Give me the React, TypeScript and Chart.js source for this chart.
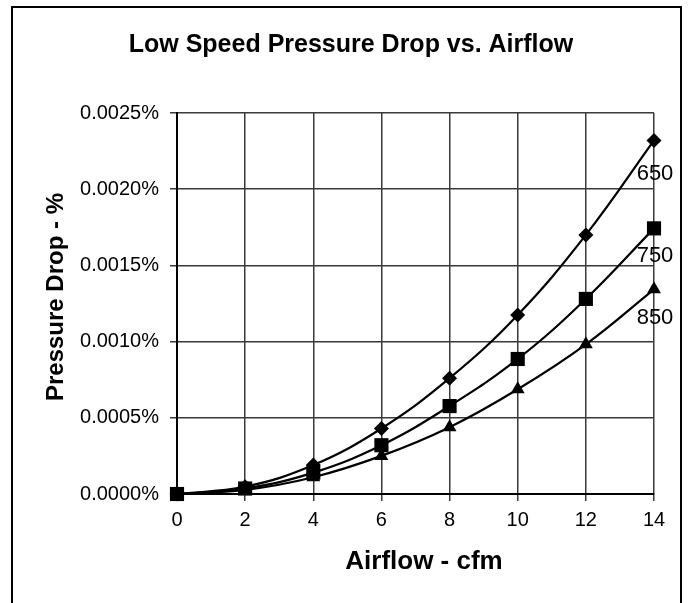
import React, { useEffect, useRef } from "react";
import { Chart, registerables } from "chart.js";

Chart.register(...registerables);

const airflow = [0, 2, 4, 6, 8, 10, 12, 14];
const seriesNames = ["650", "750", "850"];
const drop650 = [0, 0.000048, 0.00019, 0.00043, 0.00076, 0.001175, 0.0017, 0.00232];
const drop750 = [0, 0.000036, 0.00014, 0.00032, 0.000577, 0.000886, 0.00128, 0.001743];
const drop850 = [0, 0.000027, 0.00011, 0.00025, 0.000438, 0.000687, 0.000982, 0.001343];
const yTicks = [0, 0.0005, 0.001, 0.0015, 0.002, 0.0025];
const titleText = "Low Speed Pressure Drop vs. Airflow";
const xTitle = "Airflow - cfm";
const yTitle = "Pressure Drop - %";

const FONT = '"Liberation Sans", Arial, sans-serif';

export default function App() {
  const ref = useRef<HTMLCanvasElement | null>(null);

  useEffect(() => {
    if (!ref.current) return;
    const mk = (vals: number[]) => airflow.map((x, i) => ({ x, y: vals[i] }));
    const styles = ["rectRot", "rect", "triangle"];
    const radii = [7.5, 10, 8];
    const all = [drop650, drop750, drop850];

    const textPlugin = {
      id: "texts",
      beforeDraw(chart: any) {
        const ctx = chart.ctx;
        ctx.save();
        ctx.fillStyle = "#fff";
        ctx.fillRect(0, 0, chart.width, chart.height);
        ctx.restore();
      },
      afterDraw(chart: any) {
        const ctx = chart.ctx;
        ctx.save();
        ctx.fillStyle = "#000";
        ctx.textAlign = "center";
        ctx.textBaseline = "middle";
        ctx.font = `bold 25px ${FONT}`;
        ctx.fillText(titleText, 351, 45);
        ctx.font = `bold 26px ${FONT}`;
        ctx.fillText(xTitle, 424, 562);
        ctx.font = `bold 24px ${FONT}`;
        ctx.save();
        ctx.translate(56, 297);
        ctx.rotate(-Math.PI / 2);
        ctx.fillText(yTitle, 0, 0);
        ctx.restore();
        // series labels at last point
        ctx.font = `22px ${FONT}`;
        const offs = [34, 28, 29];
        chart.data.datasets.forEach((ds: any, i: number) => {
          const meta = chart.getDatasetMeta(i);
          const last = meta.data[meta.data.length - 1];
          ctx.fillText(seriesNames[i], last.x + 1, last.y + offs[i]);
        });
        // outer border
        ctx.strokeStyle = "#000";
        ctx.lineWidth = 2;
        ctx.strokeRect(12, 7, 669, 640);
        ctx.restore();
      },
    };

    const chart = new Chart(ref.current, {
      type: "line",
      data: {
        datasets: all.map((vals, i) => ({
          label: seriesNames[i],
          data: mk(vals),
          borderColor: "#000",
          backgroundColor: "#000",
          borderWidth: 2.2,
          pointStyle: styles[i] as any,
          pointRadius: radii[i],
          pointBorderWidth: 0,
          pointBackgroundColor: "#000",
          tension: 0.4,
          clip: false as any,
        })),
      },
      options: {
        animation: false,
        responsive: true,
        maintainAspectRatio: false,
        layout: { padding: { left: 0, top: 113, right: 38, bottom: 0 } },
        plugins: {
          legend: { display: false },
          tooltip: { enabled: false },
          title: { display: false },
        },
        scales: {
          x: {
            type: "linear",
            min: 0,
            max: 14,
            afterFit(s: any) {
              s.height = 603 - 494;
            },
            ticks: {
              stepSize: 2,
              color: "#000",
              padding: 7,
              font: { family: FONT, size: 20 },
            },
            grid: { color: "#3a3a3a", lineWidth: 1.5, tickLength: 7 },
            border: { color: "#000", width: 2 },
          },
          y: {
            type: "linear",
            min: 0,
            max: 0.0025,
            afterFit(s: any) {
              s.width = 177;
            },
            afterBuildTicks(s: any) {
              s.ticks = yTicks.map((v) => ({ value: v }));
            },
            ticks: {
              color: "#000",
              padding: 11,
              font: { family: FONT, size: 20 },
              callback: (v: any) => Number(v).toFixed(4) + "%",
            },
            grid: { color: "#3a3a3a", lineWidth: 1.5, tickLength: 7 },
            border: { color: "#000", width: 2 },
          },
        },
      },
      plugins: [textPlugin],
    });
    return () => chart.destroy();
  }, []);

  return (
    <div style={{ position: "fixed", left: 0, top: 0, width: 692, height: 603 }}>
      <canvas ref={ref} />
    </div>
  );
}
